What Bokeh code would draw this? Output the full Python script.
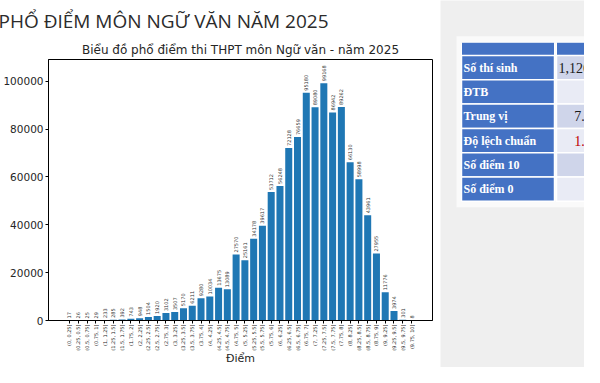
import math
from bokeh.plotting import figure
from bokeh.models import Title, Range1d, FactorRange, ColumnDataSource, NumeralTickFormatter, FixedTicker
from bokeh.layouts import row
from bokeh.embed import file_html
from bokeh.resources import INLINE
from bokeh.core.properties import value

# ---------------- data ----------------
bins = ["(0, 0.25]", "(0.25, 0.5]", "(0.5, 0.75]", "(0.75, 1]",
        "(1, 1.25]", "(1.25, 1.5]", "(1.5, 1.75]", "(1.75, 2]",
        "(2, 2.25]", "(2.25, 2.5]", "(2.5, 2.75]", "(2.75, 3]",
        "(3, 3.25]", "(3.25, 3.5]", "(3.5, 3.75]", "(3.75, 4]",
        "(4, 4.25]", "(4.25, 4.5]", "(4.5, 4.75]", "(4.75, 5]",
        "(5, 5.25]", "(5.25, 5.5]", "(5.5, 5.75]", "(5.75, 6]",
        "(6, 6.25]", "(6.25, 6.5]", "(6.5, 6.75]", "(6.75, 7]",
        "(7, 7.25]", "(7.25, 7.5]", "(7.5, 7.75]", "(7.75, 8]",
        "(8, 8.25]", "(8.25, 8.5]", "(8.5, 8.75]", "(8.75, 9]",
        "(9, 9.25]", "(9.25, 9.5]", "(9.5, 9.75]", "(9.75, 10]"]
counts = [17, 26, 25, 29, 233, 285, 392, 743, 948, 1504, 1920, 3102,
          3507, 5170, 6211, 9280, 10034, 13675, 13089, 27570, 25161, 34178,
          39617, 53712, 56248, 72128, 76659, 95180, 89080, 99168, 86942,
          89262, 66130, 58998, 43961, 27955, 11776, 3974, 301, 8]
y_ticks = [0, 20000, 40000, 60000, 80000, 100000]

table_labels = ["Số thí sinh", "ĐTB", "Trung vị", "Độ lệch chuẩn", "Số điểm 10", "Số điểm 0"]
table_values = ["1,126,172", "", "7.25", "1.24", "", ""]

slide_title = "PHỔ ĐIỂM MÔN NGỮ VĂN NĂM 2025"
chart_title = "Biểu đồ phổ điểm thi THPT môn Ngữ văn - năm 2025"
x_label = "Điểm"

# ---------------- main chart ----------------
src = ColumnDataSource(dict(bin=bins, count=counts, label=[str(c) for c in counts]))

p = figure(width=440, height=367,
           x_range=FactorRange(*bins, range_padding=0.0945),
           y_range=Range1d(0, max(counts) * 1.1),
           output_backend="svg", toolbar_location=None,
           min_border_right=8, min_border_left=0, min_border_top=0, min_border_bottom=0)
p.frame_align = False
p.border_fill_color = "white"
p.background_fill_color = "white"
p.outline_line_color = "black"
p.outline_line_width = 1
p.grid.grid_line_color = None

p.vbar(x="bin", top="count", width=0.8, source=src, fill_color="#1f77b4", line_color=None)
p.text(x="bin", y="count", text="label", source=src, angle=math.pi / 2,
       text_align="left", text_baseline="middle", y_offset=-2,
       text_font_size="5px", text_color="#333333", text_font=value("DejaVu Sans"))

p.yaxis.ticker = FixedTicker(ticks=y_ticks)
p.yaxis.formatter = NumeralTickFormatter(format="0")
for ax in (p.xaxis, p.yaxis):
    ax.axis_line_color = "black"
    ax.major_tick_line_color = "black"
    ax.major_tick_out = 3
    ax.major_tick_in = 0
    ax.minor_tick_line_color = None
    ax.major_label_text_font = "DejaVu Sans"
    ax.major_label_text_color = "#262626"
p.yaxis.major_label_text_font_size = "10.5px"
p.yaxis.major_label_standoff = 2
p.xaxis.major_label_text_font_size = "5px"
p.xaxis.major_label_orientation = math.pi / 2
p.xaxis.major_label_standoff = 1
p.xaxis.axis_label = x_label
p.xaxis.axis_label_text_font = "DejaVu Sans"
p.xaxis.axis_label_text_font_size = "11px"
p.xaxis.axis_label_text_font_style = "normal"
p.xaxis.axis_label_text_color = "#262626"
p.xaxis.axis_label_standoff = -2

p.add_layout(Title(text=chart_title, align="center", text_font="DejaVu Sans",
                   text_font_size="12px", text_font_style="normal",
                   text_color="#262626", standoff=5), "above")
p.add_layout(Title(text=slide_title, align="left", text_font="Open Sans",
                   text_font_size="19px", text_font_style="normal",
                   text_color="#2b2b2b", offset=-50, standoff=10), "above")

# ---------------- table panel ----------------
t = figure(width=144, height=367, x_range=Range1d(0, 144), y_range=Range1d(367, 0),
           x_axis_type=None, y_axis_type=None, output_backend="svg",
           toolbar_location=None, min_border=0)
t.frame_align = False
t.outline_line_color = None
t.grid.grid_line_color = None
t.background_fill_color = "#efefef"
t.border_fill_color = "#efefef"

col1_l, col1_r, col2_l, col2_r = 21, 114, 116, 240
head_t, head_b, row_h = 41.7, 55, 24.3
n = len(table_labels)
row_top = [head_b + i * row_h for i in range(n)]
row_bot = [head_b + (i + 1) * row_h for i in range(n)]
row_mid = [(a + b) / 2 for a, b in zip(row_top, row_bot)]

t.quad(left=[col1_l - 5], right=[col2_r], top=[head_t - 6], bottom=[row_bot[-1] + 6],
       fill_color="#fafafa", line_color=None)
t.quad(left=[col1_l, col2_l], right=[col1_r, col2_r], top=[head_t] * 2, bottom=[head_b] * 2,
       fill_color="#4472c4", line_color="white", line_width=1)
t.quad(left=[col1_l] * n, right=[col1_r] * n, top=row_top, bottom=row_bot,
       fill_color="#4472c4", line_color="white", line_width=1.5)
t.quad(left=[col2_l] * n, right=[col2_r] * n, top=row_top, bottom=row_bot,
       fill_color=["#cfd5ea" if i % 2 == 0 else "#e9ebf5" for i in range(n)],
       line_color="white", line_width=1.5)
t.text(x=[col1_l + 2] * n, y=row_mid, text=table_labels, text_align="left",
       text_baseline="middle", text_font=value("Liberation Serif"),
       text_font_style="bold", text_font_size="12px", text_color="white")
t.text(x=[146] * n, y=row_mid, text=table_values, text_align="center",
       text_baseline="middle", text_font=value("Liberation Serif"),
       text_font_size="14px",
       text_color=["#c00000" if lab == "Độ lệch chuẩn" else "#1a1a1a" for lab in table_labels])

layout = row(p, t, spacing=0)
open("out.html", "w").write(file_html(layout, INLINE))
